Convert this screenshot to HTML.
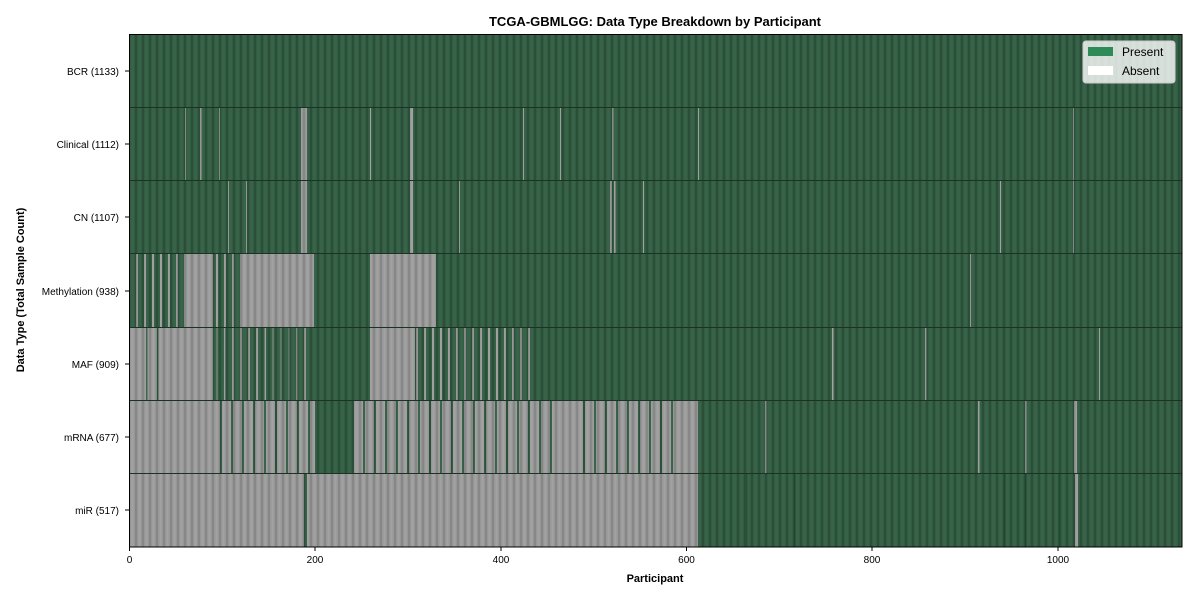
<!DOCTYPE html>
<html><head><meta charset="utf-8"><style>
body{margin:0;background:#fff;width:1200px;height:600px;overflow:hidden;font-family:"Liberation Sans","DejaVu Sans",sans-serif}
</style></head><body>
<svg width="1200" height="600" xmlns="http://www.w3.org/2000/svg" font-family="Liberation Sans, DejaVu Sans, sans-serif">
<defs>
<linearGradient id="sg" x1="0" x2="1" y1="0" y2="0">
<stop offset="0" stop-color="#000" stop-opacity="0.2"/>
<stop offset="0.5" stop-color="#fff" stop-opacity="0.06"/>
<stop offset="1" stop-color="#000" stop-opacity="0.2"/>
</linearGradient>
<pattern id="st" x="129" y="0" width="7" height="10" patternUnits="userSpaceOnUse">
<rect x="0" y="0" width="7" height="10" fill="url(#sg)"/>
</pattern>
<pattern id="mix" x="0" y="0" width="9" height="10" patternUnits="userSpaceOnUse">
<rect x="0" y="0" width="4" height="10" fill="#2b5a3d"/>
</pattern>
<pattern id="mixg" x="0" y="0" width="11" height="10" patternUnits="userSpaceOnUse">
<rect x="0" y="0" width="2" height="10" fill="#2b5a3d"/>
</pattern>
<pattern id="mixv" x="0" y="0" width="8" height="10" patternUnits="userSpaceOnUse">
<rect x="0" y="0" width="2" height="10" fill="#9c9c9c"/>
</pattern>
</defs>
<text x="655" y="26" text-anchor="middle" font-size="13" font-weight="bold">TCGA-GBMLGG: Data Type Breakdown by Participant</text>
<rect x="129" y="34" width="1053" height="513" fill="#2a593c"/>
<g fill="#9c9c9c">
<rect x="301" y="107" width="6" height="74"/>
<rect x="185" y="107" width="1" height="74"/><rect x="200" y="107" width="1.5" height="74"/><rect x="219" y="107" width="1" height="74"/><rect x="370" y="107" width="1" height="74"/><rect x="410" y="107" width="3" height="74"/><rect x="523" y="107" width="1" height="74"/><rect x="560" y="107" width="1" height="74"/><rect x="612" y="107" width="1.5" height="74"/><rect x="698" y="107" width="1" height="74"/><rect x="1073" y="107" width="1" height="74"/>
<rect x="301" y="181" width="6" height="73"/><rect x="410" y="181" width="3" height="73"/>
<rect x="228" y="181" width="1" height="73"/><rect x="246" y="181" width="1" height="73"/><rect x="459" y="181" width="1" height="73"/><rect x="610" y="181" width="2" height="73"/><rect x="614" y="181" width="1.5" height="73"/><rect x="643" y="181" width="1" height="73"/><rect x="1000" y="181" width="1" height="73"/><rect x="1073" y="181" width="1" height="73"/>
<rect x="129" y="254" width="56" height="73" fill="url(#mixv)"/>
<rect x="185" y="254" width="28" height="73"/>
<rect x="213" y="254" width="27" height="73" fill="url(#mixv)"/>
<rect x="240" y="254" width="74" height="73"/>
<rect x="370" y="254" width="66" height="73"/>
<rect x="970" y="254" width="1" height="73"/>
<rect x="129" y="327" width="84" height="73"/>
<rect x="213" y="327" width="97" height="73" fill="url(#mixv)"/>
<rect x="370" y="327" width="45" height="73"/>
<rect x="415" y="327" width="120" height="73" fill="url(#mixv)"/>
<rect x="832" y="327" width="1.5" height="73"/><rect x="925" y="327" width="1.5" height="73"/><rect x="1099" y="327" width="1" height="73"/>
<rect x="129" y="400" width="86" height="74"/>
<rect x="215" y="400" width="100" height="74"/>
<rect x="353" y="400" width="327" height="74"/>
<rect x="680" y="400" width="18" height="74"/>
<rect x="765" y="400" width="1.5" height="74"/><rect x="978" y="400" width="1.5" height="74"/><rect x="1025" y="400" width="1.5" height="74"/><rect x="1074" y="400" width="3" height="74"/>
<rect x="129" y="474" width="175" height="73"/>
<rect x="307" y="474" width="391" height="73"/>
<rect x="1075" y="474" width="3" height="73"/>
</g>
<rect x="215" y="400" width="100" height="74" fill="url(#mixg)"/>
<rect x="353" y="400" width="200" height="74" fill="url(#mixg)"/>
<rect x="575" y="400" width="105" height="74" fill="url(#mixg)"/>
<rect x="213" y="327" width="97" height="73" fill="url(#mix)" opacity="0.6"/>
<g fill="#1f4a30">
<rect x="746" y="474" width="1.5" height="73"/><rect x="794" y="474" width="1.5" height="73"/><rect x="1004" y="474" width="1.5" height="73"/><rect x="1025" y="474" width="1.5" height="73"/><rect x="1058" y="474" width="1.5" height="73"/>
<rect x="146" y="327" width="1.5" height="73" fill="#2b5a3d"/><rect x="157" y="327" width="1.5" height="73" fill="#2b5a3d"/>
</g>
<rect x="129" y="34" width="1053" height="513" fill="url(#st)"/>
<g stroke="#1a3324" stroke-width="1">
<line x1="129" y1="107.5" x2="1182" y2="107.5"/><line x1="129" y1="180.5" x2="1182" y2="180.5"/><line x1="129" y1="253.5" x2="1182" y2="253.5"/><line x1="129" y1="327.5" x2="1182" y2="327.5"/><line x1="129" y1="400.5" x2="1182" y2="400.5"/><line x1="129" y1="473.5" x2="1182" y2="473.5"/>
</g>
<rect x="129.5" y="34.5" width="1052.5" height="512.5" fill="none" stroke="#000" stroke-width="1"/>
<g font-size="10" text-anchor="end">
<text x="119" y="75">BCR (1133)</text><text x="119" y="148">Clinical (1112)</text><text x="119" y="221">CN (1107)</text><text x="119" y="295">Methylation (938)</text><text x="119" y="368">MAF (909)</text><text x="119" y="441">mRNA (677)</text><text x="119" y="514">miR (517)</text>
</g>
<g stroke="#000"><line x1="125" y1="71" x2="129" y2="71"/><line x1="125" y1="144" x2="129" y2="144"/><line x1="125" y1="217" x2="129" y2="217"/><line x1="125" y1="291" x2="129" y2="291"/><line x1="125" y1="364" x2="129" y2="364"/><line x1="125" y1="437" x2="129" y2="437"/><line x1="125" y1="510" x2="129" y2="510"/>
<line x1="129.5" y1="547" x2="129.5" y2="551"/><line x1="315" y1="547" x2="315" y2="551"/><line x1="501" y1="547" x2="501" y2="551"/><line x1="686.5" y1="547" x2="686.5" y2="551"/><line x1="872" y1="547" x2="872" y2="551"/><line x1="1058" y1="547" x2="1058" y2="551"/></g>
<g font-size="10" text-anchor="middle">
<text x="129.5" y="563">0</text><text x="315" y="563">200</text><text x="501" y="563">400</text><text x="686.5" y="563">600</text><text x="872" y="563">800</text><text x="1058" y="563">1000</text>
</g>
<text x="655" y="582" text-anchor="middle" font-size="11" font-weight="bold">Participant</text>
<text transform="translate(24,290) rotate(-90)" text-anchor="middle" font-size="11" font-weight="bold">Data Type (Total Sample Count)</text>
<rect x="1083" y="41" width="92" height="42" rx="3" fill="#fff" fill-opacity="0.8" stroke="#ccc"/>
<rect x="1088" y="47" width="25" height="9" fill="#2e8b57"/>
<rect x="1088" y="66" width="25" height="9" fill="#fff"/>
<text x="1122" y="56" font-size="12">Present</text>
<text x="1122" y="75" font-size="12">Absent</text>
</svg>
</body></html>
